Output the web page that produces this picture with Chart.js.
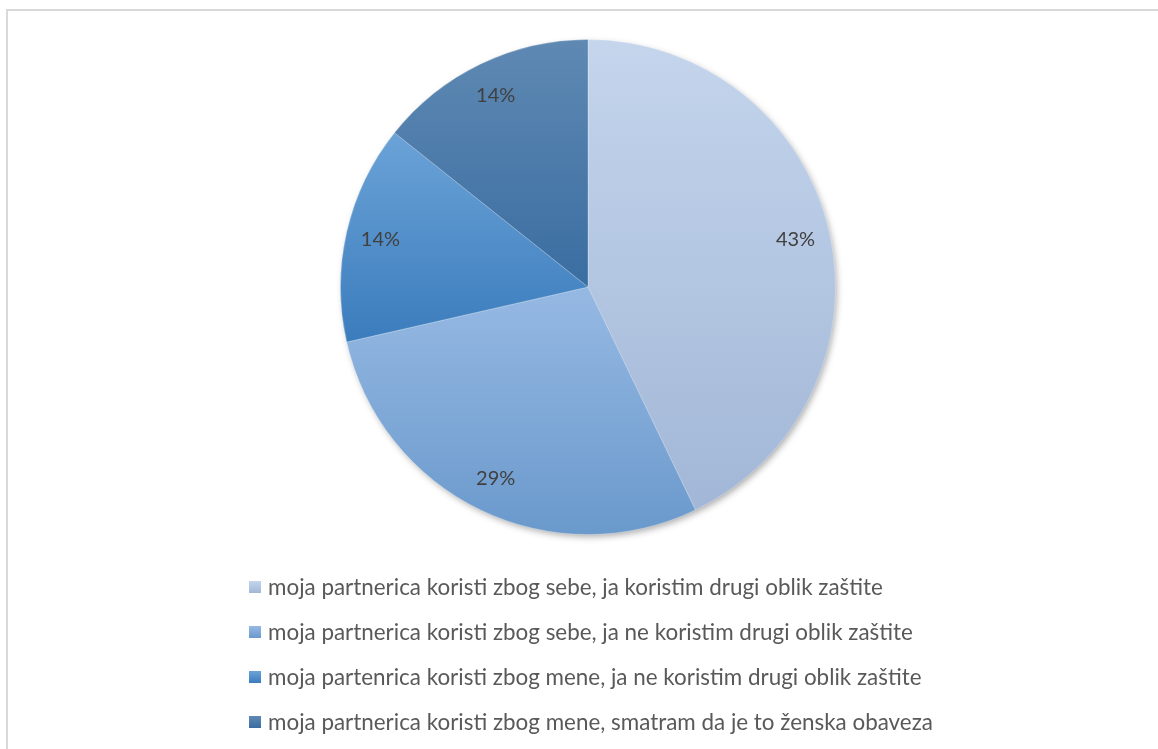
<!DOCTYPE html>
<html>
<head>
<meta charset="utf-8">
<script src="https://cdn.jsdelivr.net/npm/chart.js@4/dist/chart.umd.min.js"></script>
<style>
  html, body { margin: 0; padding: 0; background: #ffffff; overflow: hidden; }
  #wrap { position: absolute; left: 0; top: 0; width: 1158px; height: 749px; }
  #frame { position: absolute; left: 6px; top: 9px; width: 1170px; height: 760px; border: 2px solid #d9d9d9; box-sizing: border-box; }
  canvas { position: absolute; left: 0; top: 0; }
</style>
</head>
<body>
<div id="wrap">
  <div id="frame"></div>
  <canvas id="c" width="1158" height="749"></canvas>
</div>
<script>
// ---- data ----
const categories = [
  'moja partnerica koristi zbog sebe, ja koristim drugi oblik zaštite',
  'moja partnerica koristi zbog sebe, ja ne koristim drugi oblik zaštite',
  'moja partenrica koristi zbog mene, ja ne koristim drugi oblik zaštite',
  'moja partnerica koristi zbog mene, smatram da je to ženska obaveza'
];
const values = [3, 2, 1, 1];
const percentLabels = ['43%', '29%', '14%', '14%'];

// ---- styles ----
const gradTop = ['#c4d5ec', '#96b9e3', '#6ba3d7', '#5f89b3'];
const gradBottom = ['#a2b7d7', '#6a99cc', '#3b7cbd', '#3a6da1'];

function sliceGradient(context) {
  const chart = context.chart;
  const ca = chart.chartArea;
  const i = context.dataIndex;
  if (!ca) return gradTop[i];
  const cx = (ca.left + ca.right) / 2, cy = (ca.top + ca.bottom) / 2;
  const r = Math.min(ca.right - ca.left, ca.bottom - ca.top) / 2;
  const total = values.reduce((a, b) => a + b, 0);
  let start = 0;
  for (let k = 0; k < i; k++) start += values[k];
  const a0 = -Math.PI / 2 + 2 * Math.PI * start / total;
  const a1 = a0 + 2 * Math.PI * values[i] / total;
  let ymin = cy, ymax = cy;
  for (let t = 0; t <= 60; t++) {
    const a = a0 + (a1 - a0) * t / 60;
    const y = cy + r * Math.sin(a);
    ymin = Math.min(ymin, y); ymax = Math.max(ymax, y);
  }
  const g = chart.ctx.createLinearGradient(0, ymin, 0, ymax);
  g.addColorStop(0, gradTop[i]);
  g.addColorStop(1, gradBottom[i]);
  return g;
}

const shadowPlugin = {
  id: 'pieShadow',
  beforeDatasetsDraw(chart) {
    const arc = chart.getDatasetMeta(0).data[0];
    if (!arc) return;
    const ctx = chart.ctx;
    ctx.save();
    ctx.shadowColor = 'rgba(0,0,0,0.35)';
    ctx.shadowBlur = 7;
    ctx.shadowOffsetX = 2;
    ctx.shadowOffsetY = 3;
    ctx.fillStyle = '#8fa8c8';
    ctx.beginPath();
    ctx.arc(arc.x, arc.y, arc.outerRadius - 1, 0, Math.PI * 2);
    ctx.fill();
    ctx.restore();
  }
};

const labelPlugin = {
  id: 'sliceLabels',
  afterDatasetsDraw(chart) {
    const ctx = chart.ctx;
    const meta = chart.getDatasetMeta(0);
    ctx.save();
    ctx.font = '20px Lato, "Open Sans", sans-serif';
    ctx.fillStyle = '#404040';
    ctx.textAlign = 'center';
    ctx.textBaseline = 'middle';
    meta.data.forEach((arc, i) => {
      const p = arc.getProps(['x', 'y', 'startAngle', 'endAngle', 'outerRadius'], true);
      const mid = (p.startAngle + p.endAngle) / 2;
      const d = p.outerRadius * 0.86;
      ctx.fillText(percentLabels[i], p.x + d * Math.cos(mid), p.y + d * Math.sin(mid));
    });
    ctx.restore();
  }
};

const legendPlugin = {
  id: 'stackLegend',
  afterDraw(chart) {
    const ctx = chart.ctx;
    ctx.save();
    const targetW = 615;
    ctx.font = '20px Lato';
    const w = ctx.measureText(categories[0]).width;
    const size = 20 * targetW / w;
    ctx.font = size.toFixed(2) + 'px Lato, "Open Sans", sans-serif';
    ctx.textBaseline = 'middle';
    ctx.textAlign = 'left';
    const x0 = 249, box = 12, tx = 268, y0 = 587, step = 45;
    categories.forEach((label, i) => {
      const yc = y0 + i * step;
      const g = ctx.createLinearGradient(0, yc - box / 2, 0, yc + box / 2);
      g.addColorStop(0, gradTop[i]);
      g.addColorStop(1, gradBottom[i]);
      ctx.fillStyle = g;
      ctx.fillRect(x0, yc - box / 2, box, box);
      ctx.fillStyle = '#595959';
      ctx.fillText(label, tx, yc + 1);
    });
    ctx.restore();
  }
};

new Chart(document.getElementById('c'), {
  type: 'pie',
  data: {
    labels: categories,
    datasets: [{
      data: values,
      backgroundColor: sliceGradient,
      borderWidth: 1,
      borderColor: 'rgba(255,255,255,0.25)'
    }]
  },
  options: {
    responsive: false,
    animation: false,
    layout: { padding: { top: 39, bottom: 214, left: 340, right: 322 } },
    plugins: {
      legend: { display: false },
      tooltip: { enabled: false }
    }
  },
  plugins: [shadowPlugin, labelPlugin, legendPlugin]
});
</script>
</body>
</html>
